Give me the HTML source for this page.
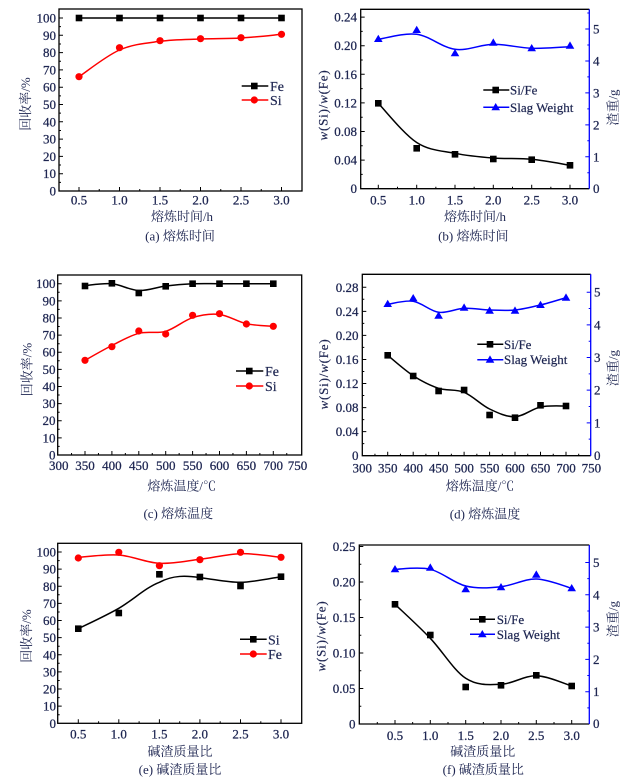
<!DOCTYPE html>
<html><head><meta charset="utf-8"><style>
html,body{margin:0;padding:0;background:#fff;}
svg{display:block;}
.t{font-family:"Liberation Serif",serif;font-size:13px;fill:#1c2450;stroke:#1c2450;stroke-width:0.25;}
.c{font-family:"Liberation Serif","Noto Serif CJK SC",serif;font-size:13px;fill:#1c2450;}
.l{font-family:"Liberation Serif",serif;font-size:14px;fill:#1c2450;stroke:#1c2450;stroke-width:0.2;}
.s{font-family:"Liberation Serif",serif;font-size:13px;fill:#1c2450;stroke:#1c2450;stroke-width:0.2;}
</style></head><body>
<svg width="639" height="780" viewBox="0 0 639 780" xmlns="http://www.w3.org/2000/svg">
<defs>
<rect id="sq" x="-3.3" y="-3.3" width="6.6" height="6.6" fill="#000"/>
<circle id="ci" r="3.6" fill="#f00"/>
<path id="tr" d="M0,-4.3 L4.3,3 L-4.3,3Z" fill="#00f"/>
</defs>

<!-- ===== Panel a ===== -->
<rect x="59" y="9" width="243" height="182" fill="none" stroke="#000" stroke-width="1.3"/>
<path fill="none" stroke="#000" stroke-width="1" d="M59,173.7h4M59,156.4h4M59,139.1h4M59,121.8h4M59,104.5h4M59,87.2h4M59,69.9h4M59,52.6h4M59,35.3h4M59,18h4M59,182.35h2M59,165.05h2M59,147.75h2M59,130.45h2M59,113.15h2M59,95.85h2M59,78.55h2M59,61.25h2M59,43.95h2M59,26.65h2M79,191v-4M119.5,191v-4M160,191v-4M200.5,191v-4M241,191v-4M281.5,191v-4M99.25,191v-2M139.75,191v-2M180.25,191v-2M220.75,191v-2M261.25,191v-2"/>
<g class="t" text-anchor="end">
<text x="56" y="195.5">0</text><text x="56" y="178.2">10</text><text x="56" y="160.9">20</text><text x="56" y="143.6">30</text><text x="56" y="126.3">40</text><text x="56" y="109">50</text><text x="56" y="91.7">60</text><text x="56" y="74.4">70</text><text x="56" y="57.1">80</text><text x="56" y="39.8">90</text><text x="56" y="22.5">100</text>
</g>
<g class="t" text-anchor="middle">
<text x="79" y="204.5">0.5</text><text x="119.5" y="204.5">1.0</text><text x="160" y="204.5">1.5</text><text x="200.5" y="204.5">2.0</text><text x="241" y="204.5">2.5</text><text x="281.5" y="204.5">3.0</text>
</g>
<path d="M79,18H281.5" stroke="#000" stroke-width="1.5" fill="none"/>
<path d="M79,76.7 C85.75,72.25 106,55.9 119.5,50 C133,44.1 146.5,43.13 160,41.3 C173.5,39.47 187,39.55 200.5,39 C214,38.45 227.5,38.78 241,38 C254.5,37.22 274.75,34.92 281.5,34.3" stroke="#f00" stroke-width="1.5" fill="none"/>
<use href="#sq" x="79" y="18"/><use href="#sq" x="119.5" y="18"/><use href="#sq" x="160" y="18"/><use href="#sq" x="200.5" y="18"/><use href="#sq" x="241" y="18"/><use href="#sq" x="281.5" y="18"/>
<use href="#ci" x="79" y="76.7"/><use href="#ci" x="119.5" y="47.7"/><use href="#ci" x="160" y="40.7"/><use href="#ci" x="200.5" y="38.7"/><use href="#ci" x="241" y="37.7"/><use href="#ci" x="281.5" y="34.3"/>
<path d="M241.7,86H268.3" stroke="#000" stroke-width="1.5"/><use href="#sq" x="254.3" y="86"/>
<path d="M241.7,100H268.3" stroke="#f00" stroke-width="1.5"/><use href="#ci" x="254.3" y="100"/>
<text class="l" x="270" y="91">Fe</text><text class="l" x="270" y="105">Si</text>
<text class="c" transform="translate(30,104) rotate(-90)" text-anchor="middle">回收率/%</text>
<text class="c" x="182" y="221" text-anchor="middle">熔炼时间/h</text>
<text class="c" x="180" y="240.5" text-anchor="middle">(a) 熔炼时间</text>

<!-- ===== Panel b ===== -->
<path d="M589.3,9.3H360.7V188.7H589.3" fill="none" stroke="#000" stroke-width="1.3"/>
<path d="M589.3,9.3V188.7" stroke="#00f" stroke-width="1.3"/>
<path fill="none" stroke="#000" stroke-width="1" d="M360.7,160.1h4M360.7,131.5h4M360.7,102.9h4M360.7,74.3h4M360.7,45.7h4M360.7,17.1h4M360.7,174.4h2M360.7,145.8h2M360.7,117.2h2M360.7,88.6h2M360.7,60h2M360.7,31.4h2M378.3,188.7v-4M416.7,188.7v-4M455,188.7v-4M493.3,188.7v-4M531.7,188.7v-4M570,188.7v-4M397.5,188.7v-2M435.85,188.7v-2M474.15,188.7v-2M512.5,188.7v-2M550.85,188.7v-2"/>
<path fill="none" stroke="#00f" stroke-width="1" d="M589.3,156.76h-4M589.3,124.82h-4M589.3,92.88h-4M589.3,60.94h-4M589.3,29h-4M589.3,172.73h-2M589.3,140.79h-2M589.3,108.85h-2M589.3,76.91h-2M589.3,44.97h-2M589.3,13h-2"/>
<g class="t" text-anchor="end">
<text x="357" y="193.2">0</text><text x="357" y="164.6">0.04</text><text x="357" y="136">0.08</text><text x="357" y="107.4">0.12</text><text x="357" y="78.8">0.16</text><text x="357" y="50.2">0.20</text><text x="357" y="21.6">0.24</text>
</g>
<g class="t">
<text x="593" y="193.2">0</text><text x="593" y="161.3">1</text><text x="593" y="129.3">2</text><text x="593" y="97.4">3</text><text x="593" y="65.4">4</text><text x="593" y="33.5">5</text>
</g>
<g class="t" text-anchor="middle">
<text x="378.3" y="204.5">0.5</text><text x="416.7" y="204.5">1.0</text><text x="455" y="204.5">1.5</text><text x="493.3" y="204.5">2.0</text><text x="531.7" y="204.5">2.5</text><text x="570" y="204.5">3.0</text>
</g>
<path d="M378.3,103.3 C384.7,109.83 403.9,134.17 416.7,142.5 C429.5,150.83 442.2,150.72 455,153.3 C467.8,155.88 480.5,157 493.3,158 C506.1,159 518.9,158.08 531.7,159.3 C544.5,160.52 563.6,164.3 570,165.3" stroke="#000" stroke-width="1.5" fill="none"/>
<path d="M378.3,39.3 C384.7,38.47 403.9,32.63 416.7,34.3 C429.5,35.97 442.2,47.63 455,49.3 C467.8,50.97 480.5,44.47 493.3,44.3 C506.1,44.13 518.9,47.9 531.7,48.3 C544.5,48.7 563.6,46.97 570,46.7" stroke="#00f" stroke-width="1.5" fill="none"/>
<use href="#sq" x="378.3" y="103.3"/><use href="#sq" x="416.7" y="148.3"/><use href="#sq" x="455" y="154.3"/><use href="#sq" x="493.3" y="159"/><use href="#sq" x="531.7" y="159.7"/><use href="#sq" x="570" y="165.3"/>
<use href="#tr" x="378.3" y="39"/><use href="#tr" x="416.7" y="30"/><use href="#tr" x="455" y="53.3"/><use href="#tr" x="493.3" y="42.7"/><use href="#tr" x="531.7" y="48.3"/><use href="#tr" x="570" y="45.7"/>
<path d="M483.3,90H509.3" stroke="#000" stroke-width="1.5"/><use href="#sq" x="495.7" y="90"/>
<path d="M483.3,107.3H509.3" stroke="#00f" stroke-width="1.5"/><use href="#tr" x="495.7" y="107.3"/>
<text class="s" x="510" y="94.5">Si/Fe</text><text class="s" x="510" y="111.8">Slag Weight</text>
<text class="s" transform="translate(327.5,105) rotate(-90)" text-anchor="middle" letter-spacing="0.8"><tspan font-style="italic">w</tspan>(Si)/<tspan font-style="italic">w</tspan>(Fe)</text>
<text class="c" transform="translate(617.5,107.5) rotate(-90)" text-anchor="middle" font-size="14">渣重/g</text>
<text class="c" x="475" y="221" text-anchor="middle">熔炼时间/h</text>
<text class="c" x="473.3" y="240.5" text-anchor="middle">(b) 熔炼时间</text>

<!-- ===== Panel c ===== -->
<rect x="57.7" y="275" width="244" height="180" fill="none" stroke="#000" stroke-width="1.3"/>
<path fill="none" stroke="#000" stroke-width="1" d="M57.7,437.87h4M57.7,420.74h4M57.7,403.61h4M57.7,386.48h4M57.7,369.35h4M57.7,352.22h4M57.7,335.09h4M57.7,317.96h4M57.7,300.83h4M57.7,283.7h4M57.7,446.4h2M57.7,429.3h2M57.7,412.2h2M57.7,395h2M57.7,377.9h2M57.7,360.8h2M57.7,343.7h2M57.7,326.5h2M57.7,309.4h2M57.7,292.3h2M85,455v-4M111.9,455v-4M138.8,455v-4M165.7,455v-4M192.6,455v-4M219.5,455v-4M246.4,455v-4M273.3,455v-4M71.55,455v-2M98.45,455v-2M125.35,455v-2M152.25,455v-2M179.15,455v-2M206.05,455v-2M232.95,455v-2M259.85,455v-2M286.75,455v-2"/>
<g class="t" text-anchor="end">
<text x="55.5" y="459.5">0</text><text x="55.5" y="442.4">10</text><text x="55.5" y="425.2">20</text><text x="55.5" y="408.1">30</text><text x="55.5" y="391">40</text><text x="55.5" y="373.9">50</text><text x="55.5" y="356.7">60</text><text x="55.5" y="339.6">70</text><text x="55.5" y="322.5">80</text><text x="55.5" y="305.3">90</text><text x="55.5" y="288.2">100</text>
</g>
<g class="t" text-anchor="middle">
<text x="58.7" y="470">300</text><text x="85" y="470">350</text><text x="111.9" y="470">400</text><text x="138.8" y="470">450</text><text x="165.7" y="470">500</text><text x="192.6" y="470">550</text><text x="219.5" y="470">600</text><text x="246.4" y="470">650</text><text x="273.3" y="470">700</text><text x="297.5" y="470">750</text>
</g>
<path d="M85,285.5 C89.48,285.22 102.93,282.97 111.9,283.8 C120.87,284.63 129.83,290.13 138.8,290.5 C147.77,290.87 156.73,287.12 165.7,286 C174.67,284.88 183.63,284.18 192.6,283.8 C201.57,283.42 210.53,283.72 219.5,283.7 L273.3,283.7" stroke="#000" stroke-width="1.5" fill="none"/>
<path d="M85,360.3 C89.48,357.83 102.93,350 111.9,345.5 C120.87,341 129.83,335.67 138.8,333.3 C147.77,330.93 156.73,333.9 165.7,331.3 C174.67,328.7 183.63,320.5 192.6,317.7 C201.57,314.9 210.53,313.5 219.5,314.5 C228.47,315.5 237.43,321.73 246.4,323.7 C255.37,325.67 268.82,325.87 273.3,326.3" stroke="#f00" stroke-width="1.5" fill="none"/>
<use href="#sq" x="85" y="286"/><use href="#sq" x="111.9" y="283.3"/><use href="#sq" x="138.8" y="293"/><use href="#sq" x="165.7" y="286.3"/><use href="#sq" x="192.6" y="283.7"/><use href="#sq" x="219.5" y="283.7"/><use href="#sq" x="246.4" y="283.7"/><use href="#sq" x="273.3" y="283.7"/>
<use href="#ci" x="85" y="360.3"/><use href="#ci" x="111.9" y="346.7"/><use href="#ci" x="138.8" y="331"/><use href="#ci" x="165.7" y="334"/><use href="#ci" x="192.6" y="315.3"/><use href="#ci" x="219.5" y="313.7"/><use href="#ci" x="246.4" y="324"/><use href="#ci" x="273.3" y="326.3"/>
<path d="M236,371H263.3" stroke="#000" stroke-width="1.5"/><use href="#sq" x="249.3" y="371"/>
<path d="M236,386H263.3" stroke="#f00" stroke-width="1.5"/><use href="#ci" x="249.3" y="386"/>
<text class="l" x="265" y="376">Fe</text><text class="l" x="265" y="391">Si</text>
<text class="c" transform="translate(31.5,369.5) rotate(-90)" text-anchor="middle">回收率/%</text>
<text class="c" x="181.7" y="490.5" text-anchor="middle">熔炼温度/℃</text>
<text class="c" x="178.3" y="518" text-anchor="middle">(c) 熔炼温度</text>

<!-- ===== Panel d ===== -->
<path d="M590.7,274.3H362.3V455.7H590.7" fill="none" stroke="#000" stroke-width="1.3"/>
<path d="M590.7,274.3V455.7" stroke="#00f" stroke-width="1.3"/>
<path fill="none" stroke="#000" stroke-width="1" d="M362.3,431.64h4M362.3,407.58h4M362.3,383.52h4M362.3,359.46h4M362.3,335.4h4M362.3,311.34h4M362.3,287.28h4M362.3,443.67h2M362.3,419.61h2M362.3,395.55h2M362.3,371.49h2M362.3,347.43h2M362.3,323.37h2M362.3,299.31h2M387.7,455.7v-4M413.2,455.7v-4M438.6,455.7v-4M464.1,455.7v-4M489.6,455.7v-4M515,455.7v-4M540.5,455.7v-4M566,455.7v-4M374.95,455.7v-2M400.45,455.7v-2M425.9,455.7v-2M451.35,455.7v-2M476.85,455.7v-2M502.3,455.7v-2M527.75,455.7v-2M553.25,455.7v-2M578.7,455.7v-2"/>
<path fill="none" stroke="#00f" stroke-width="1" d="M590.7,422.84h-4M590.7,390.18h-4M590.7,357.52h-4M590.7,324.86h-4M590.7,292.2h-4M590.7,439.17h-2M590.7,406.51h-2M590.7,373.85h-2M590.7,341.19h-2M590.7,308.53h-2"/>
<g class="t" text-anchor="end">
<text x="358.5" y="460.2">0</text><text x="358.5" y="436.1">0.04</text><text x="358.5" y="412.1">0.08</text><text x="358.5" y="388">0.12</text><text x="358.5" y="364">0.16</text><text x="358.5" y="339.9">0.20</text><text x="358.5" y="315.8">0.24</text><text x="358.5" y="291.8">0.28</text>
</g>
<g class="t">
<text x="594" y="460">0</text><text x="594" y="427.3">1</text><text x="594" y="394.7">2</text><text x="594" y="362">3</text><text x="594" y="329.4">4</text><text x="594" y="296.7">5</text>
</g>
<g class="t" text-anchor="middle">
<text x="362.2" y="472.5">300</text><text x="387.7" y="472.5">350</text><text x="413.2" y="472.5">400</text><text x="438.6" y="472.5">450</text><text x="464.1" y="472.5">500</text><text x="489.6" y="472.5">550</text><text x="515" y="472.5">600</text><text x="540.5" y="472.5">650</text><text x="566" y="472.5">700</text><text x="591.4" y="472.5">750</text>
</g>
<path d="M387.7,355.3 C391.95,358.7 404.71,370.2 413.2,375.7 C421.69,381.2 430.11,385.53 438.6,388.3 C447.09,391.07 455.61,388.85 464.1,392.3 C472.59,395.75 481.11,404.93 489.6,409 C498.09,413.07 506.51,417.03 515,416.7 C523.49,416.37 532.01,408.78 540.5,407 C548.99,405.22 561.75,406.17 566,406" stroke="#000" stroke-width="1.5" fill="none"/>
<path d="M387.7,304.3 C391.95,303.8 404.71,299.97 413.2,301.3 C421.69,302.63 430.11,311.13 438.6,312.3 C447.09,313.47 455.61,308.68 464.1,308.3 C472.59,307.92 481.11,309.72 489.6,310 C498.09,310.28 506.51,310.83 515,310 C523.49,309.17 532.01,307.05 540.5,305 C548.99,302.95 561.75,298.92 566,297.7" stroke="#00f" stroke-width="1.5" fill="none"/>
<use href="#sq" x="387.7" y="355.3"/><use href="#sq" x="413.2" y="376"/><use href="#sq" x="438.6" y="391"/><use href="#sq" x="464.1" y="390"/><use href="#sq" x="489.6" y="415"/><use href="#sq" x="515" y="417.7"/><use href="#sq" x="540.5" y="405.3"/><use href="#sq" x="566" y="406"/>
<use href="#tr" x="387.7" y="304"/><use href="#tr" x="413.2" y="298.3"/><use href="#tr" x="438.6" y="315.7"/><use href="#tr" x="464.1" y="307.7"/><use href="#tr" x="489.6" y="310.7"/><use href="#tr" x="515" y="310.7"/><use href="#tr" x="540.5" y="305"/><use href="#tr" x="566" y="297.7"/>
<path d="M477.3,344.3H503.3" stroke="#000" stroke-width="1.5"/><use href="#sq" x="490" y="344.3"/>
<path d="M477.3,359.7H503.3" stroke="#00f" stroke-width="1.5"/><use href="#tr" x="490" y="359.7"/>
<text class="s" x="504" y="348.8">Si/Fe</text><text class="s" x="504" y="364.2">Slag Weight</text>
<text class="s" transform="translate(328,374) rotate(-90)" text-anchor="middle" letter-spacing="0.8"><tspan font-style="italic">w</tspan>(Si)/<tspan font-style="italic">w</tspan>(Fe)</text>
<text class="c" transform="translate(617.5,368) rotate(-90)" text-anchor="middle" font-size="14">渣重/g</text>
<text class="c" x="480" y="490.5" text-anchor="middle">熔炼温度/℃</text>
<text class="c" x="485" y="518.5" text-anchor="middle">(d) 熔炼温度</text>

<!-- ===== Panel e ===== -->
<rect x="57.7" y="543.3" width="244" height="180" fill="none" stroke="#000" stroke-width="1.3"/>
<path fill="none" stroke="#000" stroke-width="1" d="M57.7,706.17h4M57.7,689.04h4M57.7,671.91h4M57.7,654.78h4M57.7,637.65h4M57.7,620.52h4M57.7,603.39h4M57.7,586.26h4M57.7,569.13h4M57.7,552h4M57.7,714.7h2M57.7,697.6h2M57.7,680.5h2M57.7,663.3h2M57.7,646.2h2M57.7,629.1h2M57.7,612h2M57.7,594.8h2M57.7,577.7h2M57.7,560.6h2M78.3,723.3v-4M118.8,723.3v-4M159.4,723.3v-4M199.9,723.3v-4M240.5,723.3v-4M281,723.3v-4M98.6,723.3v-2M139.1,723.3v-2M179.7,723.3v-2M220.2,723.3v-2M260.8,723.3v-2"/>
<g class="t" text-anchor="end">
<text x="56" y="727.8">0</text><text x="56" y="710.7">10</text><text x="56" y="693.5">20</text><text x="56" y="676.4">30</text><text x="56" y="659.3">40</text><text x="56" y="642.2">50</text><text x="56" y="625">60</text><text x="56" y="607.9">70</text><text x="56" y="590.8">80</text><text x="56" y="573.6">90</text><text x="56" y="556.5">100</text>
</g>
<g class="t" text-anchor="middle">
<text x="78.3" y="738.5">0.5</text><text x="118.8" y="738.5">1.0</text><text x="159.4" y="738.5">1.5</text><text x="199.9" y="738.5">2.0</text><text x="240.5" y="738.5">2.5</text><text x="281" y="738.5">3.0</text>
</g>
<path d="M78.3,557.3 C85.06,556.92 105.29,554 118.8,555 C132.31,556 145.89,562.58 159.4,563.3 C172.91,564.02 186.39,560.9 199.9,559.3 C213.41,557.7 226.99,554.03 240.5,553.7 C254.01,553.37 274.24,556.7 281,557.3" stroke="#f00" stroke-width="1.5" fill="none"/>
<path d="M78.3,628.7 C85.06,625.3 105.29,616.03 118.8,608.3 C132.31,600.57 145.89,587.4 159.4,582.3 C172.91,575 186.39,575.5 199.9,577.7 C213.41,579 226.99,582.47 240.5,582.3 C254.01,582.13 274.24,577.63 281,576.7" stroke="#000" stroke-width="1.5" fill="none"/>
<use href="#ci" x="78.3" y="558"/><use href="#ci" x="118.8" y="552.3"/><use href="#ci" x="159.4" y="565.7"/><use href="#ci" x="199.9" y="559.7"/><use href="#ci" x="240.5" y="552.3"/><use href="#ci" x="281" y="557.3"/>
<use href="#sq" x="78.3" y="628.7"/><use href="#sq" x="118.8" y="613"/><use href="#sq" x="159.4" y="574.3"/><use href="#sq" x="199.9" y="577"/><use href="#sq" x="240.5" y="586"/><use href="#sq" x="281" y="576.7"/>
<path d="M240,639.3H266.7" stroke="#000" stroke-width="1.5"/><use href="#sq" x="253.3" y="639.3"/>
<path d="M240,654H266.7" stroke="#f00" stroke-width="1.5"/><use href="#ci" x="253.3" y="654"/>
<text class="l" x="268" y="644.3">Si</text><text class="l" x="268" y="659">Fe</text>
<text class="c" transform="translate(31,636) rotate(-90)" text-anchor="middle">回收率/%</text>
<text class="c" x="180" y="756" text-anchor="middle">碱渣质量比</text>
<text class="c" x="180" y="774" text-anchor="middle">(e) 碱渣质量比</text>

<!-- ===== Panel f ===== -->
<path d="M589.3,545H359.3V724H589.3" fill="none" stroke="#000" stroke-width="1.3"/>
<path d="M589.3,545V724" stroke="#00f" stroke-width="1.3"/>
<path fill="none" stroke="#000" stroke-width="1" d="M359.3,688.5h4M359.3,653h4M359.3,617.5h4M359.3,582h4M359.3,546.5h4M359.3,706.25h2M359.3,670.75h2M359.3,635.25h2M359.3,599.75h2M359.3,564.25h2M395,724v-4M430.3,724v-4M465.7,724v-4M501,724v-4M536.3,724v-4M571.7,724v-4M377.3,724v-2M412.65,724v-2M448,724v-2M483.35,724v-2M518.65,724v-2M554,724v-2"/>
<path fill="none" stroke="#00f" stroke-width="1" d="M589.3,691.7h-4M589.3,659.4h-4M589.3,627.1h-4M589.3,594.8h-4M589.3,562.5h-4M589.3,707.85h-2M589.3,675.55h-2M589.3,643.25h-2M589.3,610.95h-2M589.3,578.65h-2"/>
<g class="t" text-anchor="end">
<text x="355.5" y="728.5">0</text><text x="355.5" y="693">0.05</text><text x="355.5" y="657.5">0.10</text><text x="355.5" y="622">0.15</text><text x="355.5" y="586.5">0.20</text><text x="355.5" y="551">0.25</text>
</g>
<g class="t">
<text x="593" y="728">0</text><text x="593" y="696.2">1</text><text x="593" y="663.9">2</text><text x="593" y="631.6">3</text><text x="593" y="599.3">4</text><text x="593" y="567">5</text>
</g>
<g class="t" text-anchor="middle">
<text x="395" y="740">0.5</text><text x="430.3" y="740">1.0</text><text x="465.7" y="740">1.5</text><text x="501" y="740">2.0</text><text x="536.3" y="740">2.5</text><text x="571.7" y="740">3.0</text>
</g>
<path d="M395,604.3 C400.89,609.97 418.52,625.97 430.3,638.3 C442.08,650.63 453.92,670.63 465.7,678.3 C477.48,685.97 489.22,684.73 501,684.3 C512.78,683.87 524.52,675.42 536.3,675.7 C548.08,675.98 565.81,684.28 571.7,686" stroke="#000" stroke-width="1.5" fill="none"/>
<path d="M395,569.3 C400.89,569.3 418.52,566.52 430.3,569.3 C442.08,572.08 453.92,583.1 465.7,586 C477.48,588.9 489.22,587.87 501,586.7 C512.78,585.53 524.52,578.73 536.3,579 C548.08,579.27 565.81,586.75 571.7,588.3" stroke="#00f" stroke-width="1.5" fill="none"/>
<use href="#sq" x="395" y="604.3"/><use href="#sq" x="430.3" y="635"/><use href="#sq" x="465.7" y="687"/><use href="#sq" x="501" y="685.3"/><use href="#sq" x="536.3" y="675.3"/><use href="#sq" x="571.7" y="686"/>
<use href="#tr" x="395" y="569.3"/><use href="#tr" x="430.3" y="567.7"/><use href="#tr" x="465.7" y="589.3"/><use href="#tr" x="501" y="587.3"/><use href="#tr" x="536.3" y="574.7"/><use href="#tr" x="571.7" y="588.3"/>
<path d="M470,619.3H495" stroke="#000" stroke-width="1.5"/><use href="#sq" x="482.3" y="619.3"/>
<path d="M470,634.3H495" stroke="#00f" stroke-width="1.5"/><use href="#tr" x="482.3" y="634.3"/>
<text class="s" x="496.7" y="623.8">Si/Fe</text><text class="s" x="496.7" y="638.8">Slag Weight</text>
<text class="s" transform="translate(325.5,636) rotate(-90)" text-anchor="middle" letter-spacing="0.8"><tspan font-style="italic">w</tspan>(Si)/<tspan font-style="italic">w</tspan>(Fe)</text>
<text class="c" transform="translate(617.5,619) rotate(-90)" text-anchor="middle" font-size="14">渣重/g</text>
<text class="c" x="482.7" y="756" text-anchor="middle">碱渣质量比</text>
<text class="c" x="483.3" y="774" text-anchor="middle">(f) 碱渣质量比</text>
</svg>
</body></html>
